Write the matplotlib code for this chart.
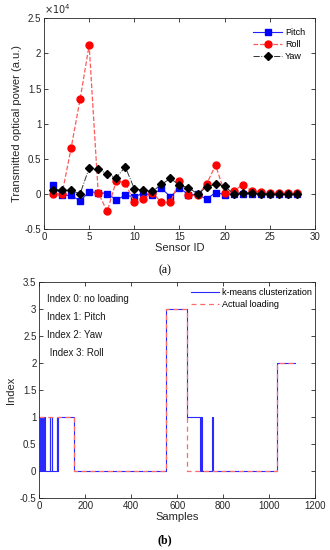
import matplotlib
matplotlib.use("Agg")
import matplotlib.pyplot as plt
from matplotlib.ticker import FuncFormatter, MultipleLocator

plt.rcParams['font.family'] = ['Liberation Sans', 'DejaVu Sans']

# ---------------- data (a) ----------------
sensor_id = list(range(1, 29))
pitch = [1300, -200, -200, -1000, 300, 200, 50, -850, -200, -400, 100, -200,
         800, -400, 850, -100, -50, -750, 200, -100, 0, 0, 0, 0, 0, 0, 0, 0]
roll = [0, 0, 6500, 13500, 21200, 200, -2500, 1850, 1550, -1200, -750, 200,
        -1200, -1200, 1900, -200, -200, 1400, 4100, 150, 400, 1300, 450, 300,
        100, 100, 100, 200]
yaw = [600, 500, 500, 0, 3700, 3500, 2850, 2300, 3850, 750, 500, 350,
       1350, 2200, 1250, 900, 0, 950, 1400, 1100, 0, 200, 100, 50, 0, 0, 0, 0]

# ---------------- data (b) ----------------
actual_t = [0, 152, 551, 645, 1036, 1113]
actual_v = [1, 0, 3, 0, 2, 2]
kmeans_t = [0, 2, 3, 5, 6, 8, 9, 11, 12, 14, 15, 17, 18, 20, 21, 23, 46, 48,
            55, 57, 77, 79, 81, 152, 551, 645, 701, 704, 708, 753, 755, 1036, 1113]
kmeans_v = [1, 0, 1, 0, 1, 0, 1, 0, 1, 0, 1, 0, 1, 0, 1, 0, 1, 0,
            1, 0, 1, 0, 1, 0, 3, 1, 0, 1, 0, 1, 0, 2, 2]
notes = ["Index 0: no loading", "Index 1: Pitch", "Index 2: Yaw", " Index 3: Roll"]

fig = plt.figure(figsize=(3.3, 5.5), dpi=100)
spine_col = '#262626'

def style(ax):
    ax.tick_params(direction='in', top=True, right=True, length=3, width=0.6,
                   labelsize=7, colors=spine_col, pad=2)
    for s in ax.spines.values():
        s.set_linewidth(0.6)
        s.set_color(spine_col)

# ---- top axes ----
ax1 = fig.add_axes([0.1333, 0.5836, 0.821, 0.383])
ax1.plot(sensor_id, pitch, '-', color='#2020ff', lw=0.8, marker='s', ms=3.8,
         mfc='b', mec='b', label='Pitch')
ax1.plot(sensor_id, roll, '--', color='#ff5a5a', lw=0.9, marker='o', ms=5,
         mfc='r', mec='r', label='Roll')
ax1.plot(sensor_id, yaw, '-.', color='#333333', lw=0.7, marker='D', ms=4.3,
         mfc='k', mec='k', label='Yaw')
ax1.set_xlim(0, 30)
ax1.set_ylim(-5000, 25000)
ax1.xaxis.set_major_locator(MultipleLocator(5))
ax1.yaxis.set_major_locator(MultipleLocator(5000))
ax1.yaxis.set_major_formatter(FuncFormatter(lambda v, p: '%g' % (v / 1e4)))
style(ax1)
ax1.set_xlabel('Sensor ID', fontsize=8, labelpad=1, color=spine_col)
ax1.set_ylabel('Transmitted optical power (a.u.)', fontsize=8, labelpad=2,
               color=spine_col)
ax1.text(0.0, 1.01, r'$\times10^{4}$', transform=ax1.transAxes, fontsize=7,
         color=spine_col, ha='left', va='bottom')
ax1.legend(loc='upper right', frameon=False, fontsize=6.5,
           handlelength=3.2, handletextpad=0.3, labelspacing=0.35,
           borderaxespad=0.4, bbox_to_anchor=(0.99, 0.99))

# ---- bottom axes ----
ax2 = fig.add_axes([0.119, 0.094, 0.8355, 0.3933])
ax2.plot(kmeans_t, kmeans_v, drawstyle='steps-post', color='#2a2aff', lw=0.8,
         label='k-means clusterization')
ax2.plot(actual_t, actual_v, drawstyle='steps-post', ls=(0, (4, 3)),
         color='#ff6a6a', lw=0.9, label='Actual loading')
ax2.set_xlim(0, 1200)
ax2.set_ylim(-0.5, 3.5)
ax2.xaxis.set_major_locator(MultipleLocator(200))
ax2.yaxis.set_major_locator(MultipleLocator(0.5))
ax2.yaxis.set_major_formatter(FuncFormatter(lambda v, p: '%g' % v))
style(ax2)
ax2.set_xlabel('Samples', fontsize=8, labelpad=1, color=spine_col)
ax2.set_ylabel('Index', fontsize=8, labelpad=3, color=spine_col)
for i, t in enumerate(notes):
    ax2.text(0.028, 0.921 - i * 0.083, t, transform=ax2.transAxes, fontsize=7,
             color='#1a1a1a', ha='left', va='center')
ax2.legend(loc='upper right', frameon=False, fontsize=6.5, handlelength=3.2,
           handletextpad=0.3, labelspacing=0.35, borderaxespad=0.3,
           bbox_to_anchor=(1.012, 1.0))

fig.text(0.5, 0.508, '(a)', ha='center', va='center', fontsize=8.5,
         family=['Liberation Serif', 'DejaVu Serif'])
fig.text(0.5, 0.018, '(b)', ha='center', va='center', fontsize=8.5,
         family=['Liberation Serif', 'DejaVu Serif'], weight='bold')

fig.savefig('out.png', dpi=100, facecolor='white')
